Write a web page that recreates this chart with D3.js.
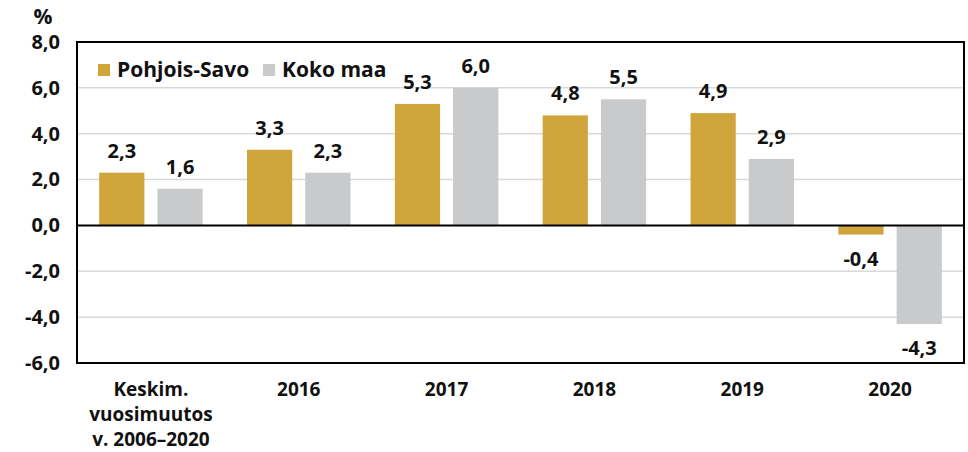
<!DOCTYPE html>
<html>
<head>
<meta charset="utf-8">
<script src="https://cdn.jsdelivr.net/npm/d3@7"></script>
<style>
  body { margin: 0; background: #fff; }
  svg text { font-family: "Open Sans", Roboto, sans-serif; font-weight: 700; fill: #111; }
</style>
</head>
<body>
<svg width="968" height="452"></svg>
<script>
// data
const categories = ["Keskim.\nvuosimuutos\nv. 2006\u20132020", "2016", "2017", "2018", "2019", "2020"];
const series = ["Pohjois-Savo", "Koko maa"];
const pohjoisSavo = [2.3, 3.3, 5.3, 4.8, 4.9, -0.4];
const kokoMaa = [1.6, 2.3, 6.0, 5.5, 2.9, -4.3];
const yTicks = [-6, -4, -2, 0, 2, 4, 6, 8];

const colors = ["#d0a63c", "#c9cacc"];

let rows = categories.map((c, i) => ({cat: c, values: [pohjoisSavo[i], kokoMaa[i]]}));

let svg = d3.select("svg");
let margin = {left: 77, right: 4, top: 42, bottom: 89};
let W = 968, H = 452;

let fi = d3.formatLocale({decimal: ",", thousands: "\u00a0", grouping: [3], currency: ["", "€"], minus: "-"});
let fmt = fi.format(".1f");

let y = d3.scaleLinear().domain([-6, 8]).range([H - margin.bottom, margin.top]);
let x0 = d3.scaleBand().domain(categories)
  .range([margin.left, W - margin.right])
  .paddingInner(0.3).paddingOuter(0.15);
let x1 = d3.scaleBand().domain(series)
  .range([0, x0.bandwidth()])
  .paddingInner(0.224);

// grid lines
svg.append("g")
  .selectAll("line")
  .data(yTicks.filter(d => d != 0 && d != 8 && d != -6))
  .join("line")
  .attr("x1", margin.left).attr("x2", W - margin.right)
  .attr("y1", d => y(d)).attr("y2", d => y(d))
  .style("stroke", "#d9d9d9")
  .style("stroke-width", "1.5px");

// y axis labels
let yAxis = d3.axisLeft(y).tickValues(yTicks).tickFormat(fmt).tickSize(0).tickPadding(17);
let ya = svg.append("g")
  .attr("transform", `translate(${margin.left},0)`)
  .call(yAxis);
ya.select(".domain").remove();
ya.selectAll("text").style("font-size", "20px").style("font-family", null);

svg.append("text")
  .attr("x", 43).attr("y", 24)
  .attr("text-anchor", "middle")
  .style("font-size", "21px")
  .text("%");

// bars
let groups = svg.append("g")
  .selectAll("g")
  .data(rows)
  .join("g")
  .attr("transform", d => `translate(${x0(d.cat)},0)`);

groups.selectAll("rect")
  .data(d => d.values.map((v, i) => ({key: series[i], v: v, i: i})))
  .join("rect")
  .attr("x", d => x1(d.key))
  .attr("width", x1.bandwidth())
  .attr("y", d => y(Math.max(0, d.v)))
  .attr("height", d => Math.abs(y(d.v) - y(0)))
  .style("fill", d => colors[d.i]);

groups.selectAll("text.val")
  .data(d => d.values.map((v, i) => ({key: series[i], v: v, i: i})))
  .join("text")
  .attr("class", "val")
  .attr("x", d => x1(d.key) + x1.bandwidth() / 2)
  .attr("y", d => d.v >= 0 ? y(d.v) - 15 : y(d.v) + 31)
  .attr("text-anchor", "middle")
  .style("font-size", "20px")
  .text(d => fmt(d.v));

// zero line
svg.append("line")
  .attr("x1", margin.left).attr("x2", W - margin.right)
  .attr("y1", y(0)).attr("y2", y(0))
  .style("stroke", "#000")
  .style("stroke-width", "2px");

// plot frame
svg.append("rect")
  .attr("x", margin.left).attr("y", margin.top)
  .attr("width", W - margin.left - margin.right)
  .attr("height", H - margin.top - margin.bottom)
  .style("fill", "none")
  .style("stroke", "#000")
  .style("stroke-width", "2px");

// x labels
let xl = svg.append("g")
  .selectAll("text")
  .data(categories)
  .join("text")
  .attr("x", d => x0(d) + x0.bandwidth() / 2)
  .attr("y", 396)
  .attr("text-anchor", "middle")
  .style("font-size", "19px");
xl.selectAll("tspan")
  .data(d => d.split("\n"))
  .join("tspan")
  .attr("x", function() { return this.parentNode.getAttribute("x"); })
  .attr("dy", (d, i) => i == 0 ? 0 : 25)
  .text(d => d);

// legend
let legendX = [98, 263];
let lg = svg.append("g")
  .selectAll("g")
  .data(series)
  .join("g")
  .attr("transform", (d, i) => `translate(${legendX[i]},64)`);
lg.append("rect")
  .attr("width", 12).attr("height", 12)
  .style("fill", (d, i) => colors[i]);
lg.append("text")
  .attr("x", 19).attr("y", 13)
  .style("font-size", "21px")
  .text(d => d);
</script>
</body>
</html>
